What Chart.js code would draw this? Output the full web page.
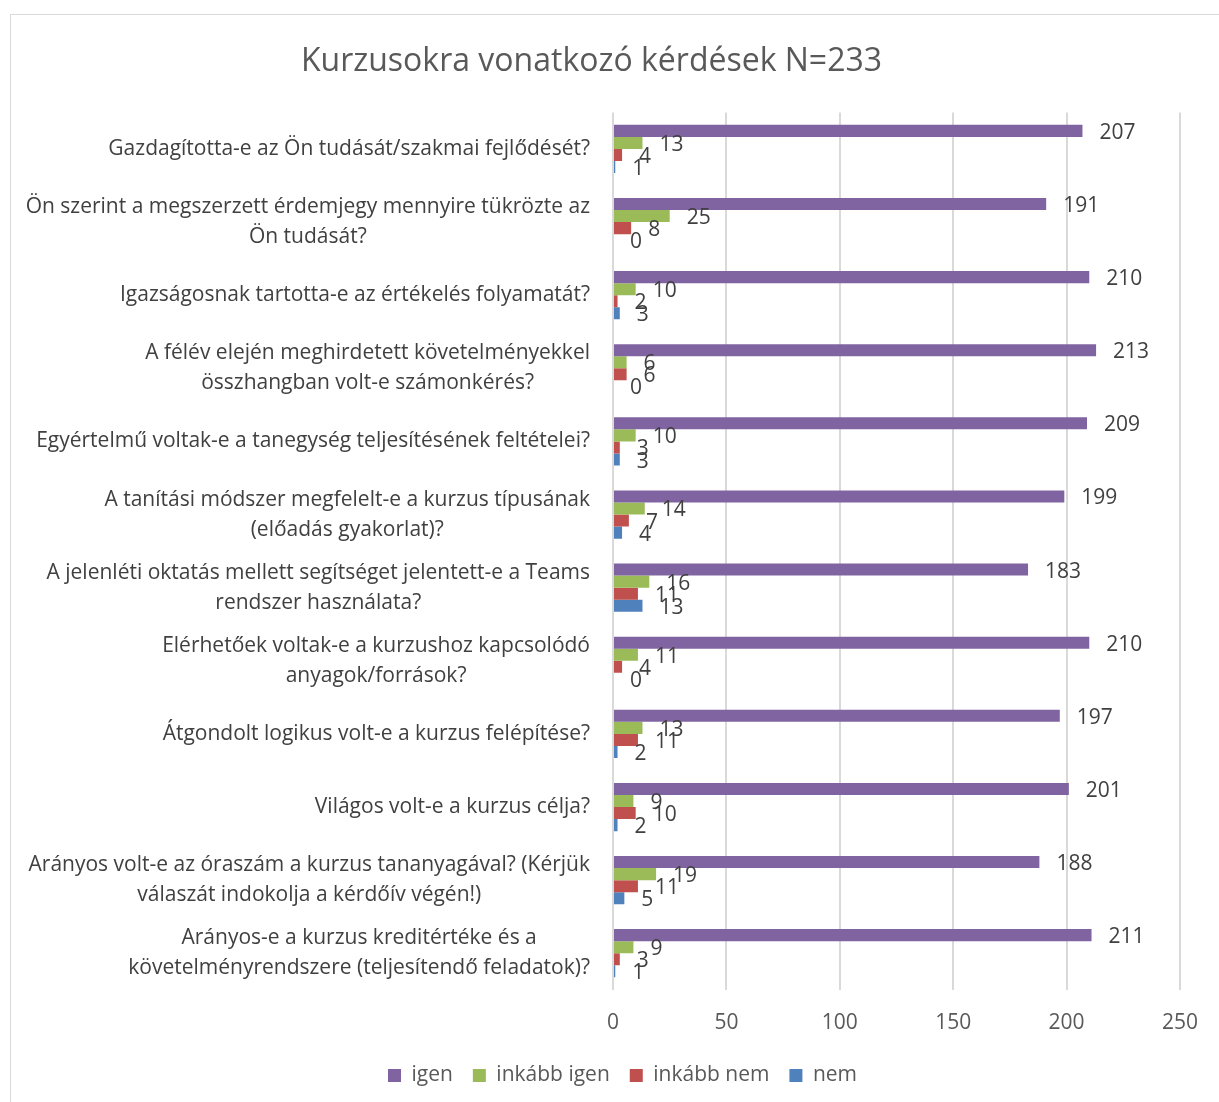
<!DOCTYPE html>
<html>
<head>
<meta charset="utf-8">
<script src="https://cdn.jsdelivr.net/npm/chart.js@4"></script>
<style>
  html, body { margin: 0; padding: 0; background: #ffffff; }
  #wrap { position: relative; width: 1219px; height: 1102px; overflow: hidden; }
  #frame { position: absolute; left: 10px; top: 14px; width: 1240px; height: 1120px; border: 1px solid #d9d9d9; }
  #chart { position: absolute; left: 0; top: 0; }
</style>
</head>
<body>
<div id="wrap">
  <div id="frame"></div>
  <canvas id="chart" width="1219" height="1102"></canvas>
</div>
<script>
const FONT = "'Open Sans', 'Liberation Sans', sans-serif";

// Questions (y categories), each entry is the lines of the label
const questions = [
  ["Gazdagította-e az Ön tudását/szakmai fejlődését?"],
  ["Ön szerint a megszerzett érdemjegy mennyire tükrözte az", "Ön tudását?"],
  ["Igazságosnak tartotta-e az értékelés folyamatát?"],
  ["A félév elején meghirdetett követelményekkel", "összhangban volt-e számonkérés?"],
  ["Egyértelmű voltak-e a tanegység teljesítésének feltételei?"],
  ["A tanítási módszer megfelelt-e a kurzus típusának", "(előadás gyakorlat)?"],
  ["A jelenléti oktatás mellett segítséget jelentett-e a Teams", "rendszer használata?"],
  ["Elérhetőek voltak-e a kurzushoz kapcsolódó", "anyagok/források?"],
  ["Átgondolt logikus volt-e a kurzus felépítése?"],
  ["Világos volt-e a kurzus célja?"],
  ["Arányos volt-e az óraszám a kurzus tananyagával? (Kérjük", "válaszát indokolja a kérdőív végén!)"],
  ["Arányos-e a kurzus kreditértéke és a", "követelményrendszere (teljesítendő feladatok)?"]
];

// Answer counts per series
const igen       = [207, 191, 210, 213, 209, 199, 183, 210, 197, 201, 188, 211];
const inkabbIgen = [13, 25, 10, 6, 10, 14, 16, 11, 13, 9, 19, 9];
const inkabbNem  = [4, 8, 2, 6, 3, 7, 11, 4, 11, 10, 11, 3];
const nem        = [1, 0, 3, 0, 3, 4, 13, 0, 2, 2, 5, 1];

const xTicks = [0, 50, 100, 150, 200, 250];

// Draws value labels next to bar ends (no datalabels plugin offline)
const valueLabels = {
  id: "valueLabels",
  afterDatasetsDraw(chart) {
    const ctx = chart.ctx;
    ctx.save();
    ctx.font = "21px " + FONT;
    ctx.fillStyle = "#404040";
    ctx.textAlign = "left";
    ctx.textBaseline = "middle";
    chart.data.datasets.forEach((ds, i) => {
      const meta = chart.getDatasetMeta(i);
      meta.data.forEach((bar, j) => {
        ctx.fillText(String(ds.data[j]), bar.x + 17, bar.y + 2);
      });
    });
    ctx.restore();
  }
};

// Category labels: right aligned block, lines centered within it (like Excel)
const categoryLabels = {
  id: "categoryLabels",
  afterDraw(chart) {
    const ctx = chart.ctx;
    const yScale = chart.scales.y;
    const lineH = 30;
    ctx.save();
    ctx.font = "21px " + FONT;
    ctx.fillStyle = "#404040";
    ctx.textAlign = "center";
    ctx.textBaseline = "middle";
    questions.forEach((lines, i) => {
      const cy = yScale.getPixelForValue(i);
      const maxW = Math.max(...lines.map(l => ctx.measureText(l).width));
      const cx = 590 - maxW / 2;
      const startY = cy - (lines.length - 1) * lineH / 2;
      lines.forEach((l, k) => ctx.fillText(l, cx, startY + k * lineH));
    });
    ctx.restore();
  }
};

// Legend keeps its item spacing but takes less vertical room above the items,
// and is nudged right to sit where Excel put it
const LEG_TRIM = 12;
const LEG_SHIFT = 31;
const legendTrim = {
  id: "legendTrim",
  beforeUpdate(chart) {
    const lg = chart.legend;
    if (lg && !lg._trimmed) {
      const fit = lg.fit;
      lg.fit = function () { fit.call(this); this.height -= LEG_TRIM; };
      lg._trimmed = true;
    }
  },
  afterLayout(chart) {
    const lg = chart.legend;
    lg.top -= LEG_TRIM;
    lg.left += LEG_SHIFT;
    lg.right += LEG_SHIFT;
  }
};

const series = [
  { label: "igen", data: igen, color: "#8064A2" },
  { label: "inkább igen", data: inkabbIgen, color: "#9BBB59" },
  { label: "inkább nem", data: inkabbNem, color: "#C0504D" },
  { label: "nem", data: nem, color: "#4F81BD" }
];

new Chart(document.getElementById("chart").getContext("2d"), {
  type: "bar",
  data: {
    labels: questions.map(q => q.join(" ")),
    datasets: series.map(s => ({
      label: s.label,
      data: s.data,
      backgroundColor: s.color,
      borderWidth: 0,
      barPercentage: 1,
      categoryPercentage: 0.66
    }))
  },
  options: {
    indexAxis: "y",
    responsive: false,
    animation: false,
    layout: { padding: { left: 0, right: 36, top: 43, bottom: 6 } },
    plugins: {
      title: {
        display: true,
        text: "Kurzusokra vonatkozó kérdések N=233",
        color: "#595959",
        font: { family: FONT, size: 32, weight: "normal" },
        padding: { top: 0, bottom: 31 }
      },
      legend: {
        position: "bottom",
        labels: {
          color: "#595959",
          font: { family: FONT, size: 21 },
          boxWidth: 13,
          boxHeight: 13,
          padding: 20
        }
      },
      tooltip: { enabled: false }
    },
    scales: {
      x: {
        min: 0,
        max: 250,
        afterBuildTicks: (scale) => { scale.ticks = xTicks.map(v => ({ value: v })); },
        ticks: { color: "#595959", font: { family: FONT, size: 21 }, padding: 21 },
        grid: { color: "#d9d9d9", lineWidth: 2, drawTicks: false },
        border: { display: false }
      },
      y: {
        afterFit: (scale) => { scale.width = 613; },
        ticks: { display: false },
        grid: { display: false },
        border: { display: false }
      }
    }
  },
  plugins: [valueLabels, categoryLabels, legendTrim]
});
</script>
</body>
</html>
